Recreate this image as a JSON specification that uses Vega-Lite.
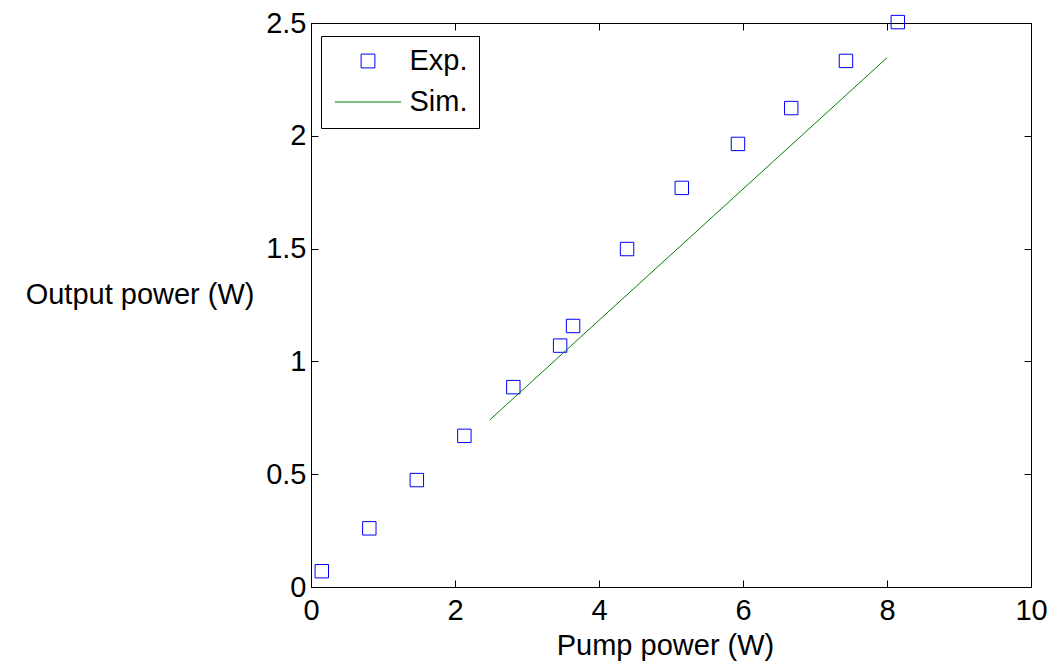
{
  "$schema": "https://vega.github.io/schema/vega-lite/v6.json",
  "width": 720,
  "height": 564,
  "autosize": "none",
  "padding": {"left": 311, "top": 23, "right": 17, "bottom": 76},
  "background": "white",
  "config": {
    "view": {"stroke": "black", "strokeWidth": 1},
    "font": "Liberation Sans",
    "axis": {
      "grid": false,
      "domainColor": "black",
      "tickColor": "black",
      "labelColor": "black",
      "titleColor": "black",
      "labelFont": "Liberation Sans",
      "titleFont": "Liberation Sans",
      "labelFontSize": 29,
      "titleFontSize": 29,
      "titleFontWeight": "normal",
      "tickSize": -7,
      "tickWidth": 1,
      "domainWidth": 1,
      "labelFlush": false
    }
  },
  "datasets": {
    "exp": [
      {"pump": 0.15, "output": 0.07, "series": "Exp."},
      {"pump": 0.81, "output": 0.26, "series": "Exp."},
      {"pump": 1.47, "output": 0.474, "series": "Exp."},
      {"pump": 2.13, "output": 0.67, "series": "Exp."},
      {"pump": 2.81, "output": 0.886, "series": "Exp."},
      {"pump": 3.46, "output": 1.07, "series": "Exp."},
      {"pump": 3.64, "output": 1.157, "series": "Exp."},
      {"pump": 4.39, "output": 1.498, "series": "Exp."},
      {"pump": 5.15, "output": 1.769, "series": "Exp."},
      {"pump": 5.93, "output": 1.964, "series": "Exp."},
      {"pump": 6.67, "output": 2.123, "series": "Exp."},
      {"pump": 7.43, "output": 2.332, "series": "Exp."},
      {"pump": 8.15, "output": 2.504, "series": "Exp."}
    ],
    "sim": [
      {"pump": 2.48, "output": 0.74, "series": "Sim."},
      {"pump": 8.0, "output": 2.346, "series": "Sim."}
    ]
  },
  "layer": [
    {
      "data": {"name": "exp"},
      "mark": {"type": "point", "filled": false, "size": 180, "strokeWidth": 1, "opacity": 1},
      "encoding": {
        "x": {
          "field": "pump", "type": "quantitative",
          "scale": {"domain": [0, 10], "nice": false, "zero": false},
          "axis": {"orient": "bottom", "values": [0, 2, 4, 6, 8, 10], "title": "Pump power (W)",
                   "titleX": 354, "titleY": 67, "titleBaseline": "alphabetic", "labelPadding": 16}
        },
        "y": {
          "field": "output", "type": "quantitative",
          "scale": {"domain": [0, 2.5], "nice": false, "zero": false},
          "axis": {"orient": "left", "values": [0, 0.5, 1, 1.5, 2, 2.5], "format": "~g",
                   "title": "Output power (W)", "titleAngle": 0, "titleAlign": "right",
                   "titleBaseline": "middle", "titleX": -57, "titleY": 271, "labelPadding": 12}
        },
        "color": {
          "field": "series", "type": "nominal",
          "scale": {"domain": ["Exp.", "Sim."], "range": ["#0000ff", "#008000"]},
          "legend": {
            "title": null, "orient": "none", "legendX": 10, "legendY": 13,
            "strokeColor": "black", "fillColor": "white", "padding": 10.5, "rowPadding": 11,
            "labelFontSize": 29, "labelFont": "Liberation Sans", "labelColor": "black",
            "symbolSize": 190, "symbolStrokeWidth": 1, "symbolOffset": 22, "labelOffset": 27
          }
        },
        "shape": {
          "field": "series", "type": "nominal",
          "scale": {"domain": ["Exp.", "Sim."], "range": ["square", "M-4.8,0H4.8"]},
          "legend": {
            "title": null, "orient": "none", "legendX": 10, "legendY": 13,
            "strokeColor": "black", "fillColor": "white", "padding": 10.5, "rowPadding": 11,
            "labelFontSize": 29, "labelFont": "Liberation Sans", "labelColor": "black",
            "symbolSize": 190, "symbolStrokeWidth": 1, "symbolOffset": 22, "labelOffset": 27
          }
        }
      }
    },
    {
      "data": {"name": "sim"},
      "mark": {"type": "line", "strokeWidth": 1},
      "encoding": {
        "x": {
          "field": "pump", "type": "quantitative",
          "axis": {"orient": "top", "values": [0, 2, 4, 6, 8, 10], "labels": false, "title": null}
        },
        "y": {
          "field": "output", "type": "quantitative",
          "axis": {"orient": "right", "values": [0, 0.5, 1, 1.5, 2, 2.5], "labels": false, "title": null}
        },
        "color": {"field": "series", "type": "nominal"}
      }
    }
  ],
  "resolve": {"axis": {"x": "independent", "y": "independent"}}
}
